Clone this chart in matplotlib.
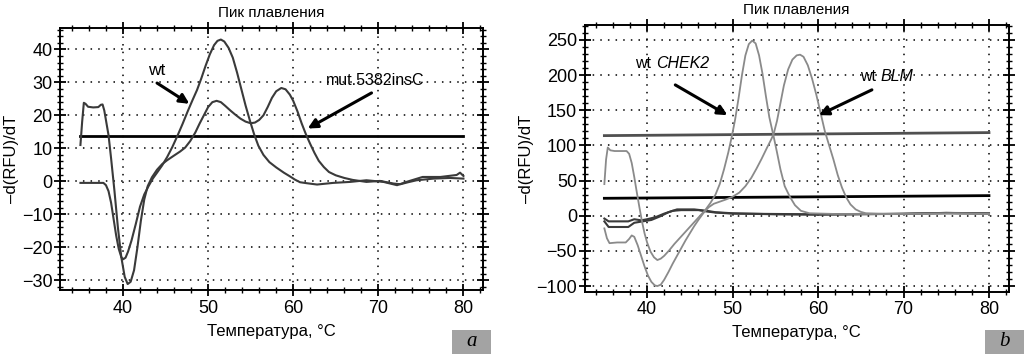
import matplotlib

matplotlib.use("Agg")

import matplotlib.pyplot as plt
from matplotlib.patches import Rectangle
from matplotlib.ticker import MultipleLocator

plt.rcParams["font.family"] = ["Liberation Sans", "DejaVu Sans"]

# panel a: melting curves (temperature, -dRFU/dT)
A_MUT_T = [35.0, 35.2, 35.4, 35.6, 35.9, 36.5, 37.1, 37.4, 37.6, 37.8, 38.0, 38.3, 38.6, 39.0,
           39.4, 39.8, 40.2, 40.55, 40.9, 41.3, 41.7, 42.1, 42.5, 42.9, 43.4, 44.0, 44.6, 45.2,
           46.0, 46.7, 47.3, 47.9, 48.5, 49.0, 49.5, 50.0, 50.5, 51.0, 51.5, 52.0, 52.6, 53.2,
           53.8, 54.4, 55.0, 55.5, 56.0, 56.5, 57.0, 57.5, 58.0, 58.6, 59.1, 59.6, 60.0, 60.5,
           61.0, 61.5, 62.0, 62.5, 63.0, 63.6, 64.2, 65.0, 66.0, 67.0, 68.6, 70.2, 71.0, 71.8,
           72.6, 73.5, 74.5, 76.5, 78.4, 80.0]
A_MUT_Y = [11.0, 18.0, 23.8, 23.5, 22.6, 22.4, 22.5, 23.2, 23.3, 21.5, 18.5, 14.0, 7.0, -3.0,
           -14.0, -23.0, -29.0, -31.2, -30.5, -27.0, -20.0, -12.0, -5.5, -1.5, 1.2, 3.5, 5.2, 6.4,
           7.8, 9.0, 10.2, 12.2, 14.8, 17.5, 20.0, 22.5, 24.0, 24.4, 24.0, 22.9, 21.5, 20.2,
           19.0, 18.1, 17.6, 17.8, 18.6, 20.0, 22.5, 25.3, 27.3, 28.3, 27.9, 26.3, 24.4, 21.2,
           17.5, 14.2, 11.3, 8.6, 6.2, 4.3, 2.8, 1.8, 1.0, 0.4, -0.2, 0.1, -0.3, -0.7,
           -0.9, -0.3, 0.3, 0.8, 1.0, 0.8]
A_WT_T = [35.0, 37.7, 38.0, 38.3, 38.6, 38.9, 39.2, 39.5, 39.8, 40.0, 40.3, 40.6, 41.0, 41.5,
          42.0, 42.5, 43.0, 43.5, 44.0, 44.6, 45.2, 45.8, 46.4, 47.0, 47.6, 48.2, 48.7, 49.2,
          49.7, 50.2, 50.7, 51.1, 51.5, 51.9, 52.4, 52.9, 53.4, 53.9, 54.4, 54.9, 55.4, 55.9,
          56.5, 57.2, 58.0, 58.9, 59.6, 60.2, 60.8, 61.6, 62.8, 64.7, 66.7, 68.6, 70.6, 72.2,
          73.3, 75.2, 77.3, 79.2, 79.6, 80.0]
A_WT_Y = [-0.5, -0.5, -1.2, -3.0, -6.5, -11.5, -16.5, -20.5, -23.0, -23.7, -23.2, -21.3, -18.0, -13.0,
          -7.7, -4.0, -1.5, 0.8, 2.6, 4.8, 7.4, 10.4, 13.8, 17.4, 21.2, 24.8, 27.7, 31.2,
          35.0, 38.5, 41.3, 42.6, 43.0, 42.4, 40.5, 37.5, 33.0, 28.0, 23.0, 18.5, 14.3, 10.8,
          8.0, 5.8, 4.2, 2.6, 1.5, 0.5, -0.3, -0.6, -1.0, -0.5, -0.2, 0.3, -0.2, -1.2,
          -0.2, 1.3, 1.3, 1.9, 2.6, 1.6]
A_THRESHOLD_T = [35.0, 80.0]
A_THRESHOLD_Y = [13.8, 13.8]

# panel b
B_CHEK2_T = [35.0, 35.2, 35.4, 35.7, 36.2, 37.0, 37.6, 37.9, 38.2, 38.5, 38.8, 39.1, 39.4, 39.7,
             40.0, 40.4, 40.8, 41.2, 41.6, 42.0, 42.6, 43.2, 43.8, 44.4, 45.0, 45.6, 46.2, 46.8,
             47.4, 48.0, 48.5, 49.0, 49.5, 49.9, 50.3, 50.7, 51.1, 51.5, 51.9, 52.3, 52.7, 53.1,
             53.5, 53.9, 54.3, 54.8, 55.2, 55.6, 56.1, 56.7, 57.3, 58.0, 59.0, 62.0, 66.0, 70.0,
             75.0, 80.0]
B_CHEK2_Y = [45.0, 80.0, 97.0, 93.0, 92.0, 92.0, 92.0, 88.0, 75.0, 55.0, 33.0, 12.0, -8.0, -25.0,
             -38.0, -51.0, -59.0, -63.0, -61.0, -57.0, -49.0, -40.0, -32.0, -24.0, -16.0, -8.0, 0.0, 8.0,
             18.0, 30.0, 45.0, 66.0, 90.0, 112.0, 137.0, 167.0, 200.0, 228.0, 244.0, 249.0, 245.0, 228.0,
             202.0, 170.0, 140.0, 113.0, 90.0, 66.0, 42.0, 27.0, 15.0, 7.0, 3.5, 2.5, 2.5, 2.5,
             3.0, 2.5]
B_BLM_T = [35.0, 35.3, 35.6, 36.5, 37.5, 37.9, 38.2, 38.5, 38.9, 39.3, 39.7, 40.1, 40.5, 40.9,
           41.2, 41.6, 42.0, 42.5, 43.0, 43.5, 44.0, 44.5, 45.0, 45.5, 46.0, 46.6, 47.2, 47.8,
           48.5, 49.2, 50.0, 50.8, 51.5, 52.2, 52.8, 53.4, 54.0, 54.5, 54.8, 55.2, 55.6, 56.0,
           56.5, 57.0, 57.5, 57.9, 58.3, 58.8, 59.3, 59.8, 60.3, 60.8, 61.3, 61.8, 62.3, 62.8,
           63.3, 63.8, 64.4, 65.0, 65.6, 68.0, 72.0, 76.0, 80.0]
B_BLM_Y = [-18.0, -32.0, -39.0, -38.0, -38.0, -33.0, -28.0, -30.0, -42.0, -57.0, -72.0, -85.0, -94.0, -99.0,
           -100.0, -98.0, -91.0, -80.0, -68.0, -57.0, -46.0, -35.0, -25.0, -15.0, -6.0, 4.0, 12.0, 17.0,
           20.0, 23.0, 27.0, 33.0, 42.0, 54.0, 67.0, 81.0, 96.0, 108.0, 116.0, 135.0, 160.0, 185.0,
           208.0, 222.0, 228.0, 229.0, 226.0, 214.0, 195.0, 172.0, 146.0, 120.0, 100.0, 80.0, 58.0, 40.0,
           26.0, 16.0, 9.0, 5.5, 3.5, 2.5, 3.0, 3.5, 3.0]
B_DARK1_T = [35.0, 35.5, 37.8, 38.5, 39.3, 40.0, 41.0, 42.0, 43.0, 44.0, 46.0, 47.0, 48.0, 50.0,
             55.0, 60.0, 65.0, 70.0, 75.0, 80.0]
B_DARK1_Y = [-4.0, -8.0, -8.0, -5.0, -6.5, -5.0, -2.0, 3.0, 7.0, 8.0, 8.0, 6.0, 4.5, 3.0,
             2.5, 2.0, 2.5, 2.5, 4.0, 3.0]
B_DARK2_T = [35.0, 35.5, 37.8, 38.5, 39.5, 40.5, 41.5, 42.5, 43.5, 45.5, 47.0, 48.0, 50.0,
             55.0, 60.0, 65.0, 70.0, 75.0, 80.0]
B_DARK2_Y = [-8.0, -16.0, -16.0, -10.0, -8.0, -6.0, -1.0, 5.0, 9.0, 9.0, 7.0, 5.0, 3.5,
             2.0, 1.5, 2.0, 3.0, 4.0, 3.5]
B_THRESHOLD_HI_T = [35.0, 80.0]
B_THRESHOLD_HI_Y = [113.9, 118.2]
B_THRESHOLD_LO_T = [35.0, 80.0]
B_THRESHOLD_LO_Y = [24.8, 28.6]

TITLE = "Пик плавления"
XLABEL = "Температура, °C"
YLABEL = "–d(RFU)/dT"

DARK = "#3a3a3a"
LIGHT = "#8a8a8a"


def style_axes(ax, xlim, ylim, ymajor, yminor):
    ax.set_xlim(*xlim)
    ax.set_ylim(*ylim)
    ax.xaxis.set_major_locator(MultipleLocator(10))
    ax.xaxis.set_minor_locator(MultipleLocator(2))
    ax.yaxis.set_major_locator(MultipleLocator(ymajor))
    ax.yaxis.set_minor_locator(MultipleLocator(yminor))
    ax.tick_params(which="major", direction="inout", length=8, width=1.3,
                   labelsize=13, top=True, right=True, pad=1.5)
    ax.tick_params(which="minor", direction="inout", length=5, width=1.0,
                   top=True, right=True)
    ax.tick_params(axis="x", which="major", pad=3)
    for side in ax.spines.values():
        side.set_linewidth(1.4)
    ax.grid(True, which="major", color="black", linestyle=(0, (1, 4)), linewidth=1.1)
    ax.set_title(TITLE, fontsize=11, pad=8)
    ax.set_xlabel(XLABEL, fontsize=12, labelpad=5)
    ax.set_ylabel(YLABEL, fontsize=12, labelpad=2)


def panel_tag(fig, x0, letter):
    fig.patches.append(Rectangle((x0, 0.0), 39 / 1024, 24 / 354, transform=fig.transFigure,
                                 facecolor="#a3a3a3", edgecolor="none"))
    fig.text(x0 + 19.5 / 1024, 12 / 354, letter, ha="center", va="center", fontsize=15,
             family="Liberation Serif", style="italic")


def arrow(ax, start, end):
    ax.annotate("", xy=end, xytext=start,
                arrowprops=dict(arrowstyle="-|>", color="black", lw=2.2, mutation_scale=14,
                                shrinkA=0, shrinkB=0))


def main():
    fig = plt.figure(figsize=(10.24, 3.54), dpi=100)
    ax_a = fig.add_axes([0.0586, 0.1808, 0.4131, 0.7401])
    ax_b = fig.add_axes([0.571, 0.176, 0.414, 0.753])

    ax_a.plot(A_THRESHOLD_T, A_THRESHOLD_Y, color="black", lw=2.0)
    ax_a.plot(A_MUT_T, A_MUT_Y, color=DARK, lw=1.5)
    ax_a.plot(A_WT_T, A_WT_Y, color=DARK, lw=1.5)
    style_axes(ax_a, (32.6, 82.3), (-33.0, 46.5), 10, 2)
    ax_a.text(44.0, 33.7, "wt", ha="center", va="center", fontsize=12.5)
    arrow(ax_a, (44.0, 29.8), (47.8, 23.5))
    ax_a.text(69.6, 30.7, "mut.5382insC", ha="center", va="center", fontsize=11.5)
    arrow(ax_a, (69.2, 26.8), (61.7, 16.0))

    ax_b.plot(B_THRESHOLD_HI_T, B_THRESHOLD_HI_Y, color="#505050", lw=2.0)
    ax_b.plot(B_THRESHOLD_LO_T, B_THRESHOLD_LO_Y, color="black", lw=2.0)
    ax_b.plot(B_DARK1_T, B_DARK1_Y, color=DARK, lw=1.5)
    ax_b.plot(B_DARK2_T, B_DARK2_Y, color=DARK, lw=1.5)
    ax_b.plot(B_CHEK2_T, B_CHEK2_Y, color=LIGHT, lw=1.3)
    ax_b.plot(B_BLM_T, B_BLM_Y, color=LIGHT, lw=1.3)
    style_axes(ax_b, (32.7, 82.3), (-108, 271), 50, 10)
    ax_b.text(41.0, 216.8, "wt ", ha="right", va="center", fontsize=11.5)
    ax_b.text(41.0, 216.8, "CHEK2", ha="left", va="center", fontsize=11.5, style="italic")
    arrow(ax_b, (43.3, 186), (49.4, 143))
    ax_b.text(67.3, 198, "wt ", ha="right", va="center", fontsize=11.5)
    ax_b.text(67.3, 198, "BLM", ha="left", va="center", fontsize=11.5, style="italic")
    arrow(ax_b, (66.3, 179), (60.1, 143))

    panel_tag(fig, 452 / 1024, "a")
    panel_tag(fig, 985 / 1024, "b")

    fig.savefig("out.png", dpi=100)
    plt.close(fig)


if __name__ == "__main__":
    main()
